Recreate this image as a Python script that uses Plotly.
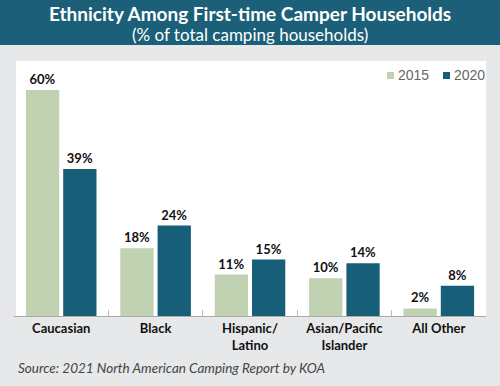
import plotly.graph_objects as go

categories = ["Caucasian", "Black", "Hispanic/<br>Latino", "Asian/Pacific<br>Islander", "All Other"]
values_2015 = [60, 18, 11, 10, 2]
values_2020 = [39, 24, 15, 14, 8]
series_names = ["2015", "2020"]

c2015 = "#c1d2b3"
c2020 = "#175e78"
band = "#1b5f79"
bg = "#e7e8e9"

L, R, T, B = 14, 14, 61, 70
W = 500 - L - R
H = 386 - T - B

def px(pix):
    return (pix - L) / W
def py(pix):
    return (386 - B - pix) / H

fig = go.Figure()
for name, vals, col in [(series_names[0], values_2015, c2015), (series_names[1], values_2020, c2020)]:
    fig.add_trace(go.Bar(
        x=categories, y=vals, name=name, marker=dict(color=col, line=dict(width=0)),
        text=[f"{v}%" for v in vals], textposition="outside", cliponaxis=False, showlegend=False,
        textfont=dict(family="Lato", size=13, color="#111111", weight="bold"),
    ))

# manual legend (squares + labels)
legend_items = [(series_names[0], c2015, 387), (series_names[1], c2020, 443)]
shapes = [dict(type="rect", xref="paper", yref="paper", x0=-0.1, x1=1.1, y0=py(45), y1=py(-5),
               fillcolor=band, line=dict(width=0), layer="below"),
          dict(type="rect", xref="paper", yref="paper", x0=px(16), x1=px(L), y0=0, y1=1,
               fillcolor=bg, line=dict(width=0), layer="above")]
annotations = []
for name, col, x0 in legend_items:
    shapes.append(dict(type="rect", xref="paper", yref="paper", x0=px(x0), x1=px(x0 + 7),
                       y0=py(79), y1=py(72), fillcolor=col, line=dict(width=0)))
    annotations.append(dict(text=name, xref="paper", yref="paper", x=px(x0 + 9), y=py(74.5),
                            xanchor="left", yanchor="middle", showarrow=False,
                            font=dict(family="Liberation Sans", size=14, color="#666666")))

annotations += [
    dict(text="<b><span style='font-size:19px'>Ethnicity Among First-time Camper Households</span></b><br>"
              "<span style='font-size:17px'>(% of total camping households)</span>",
         xref="paper", yref="paper", x=px(250), y=py(23), xanchor="center", yanchor="middle",
         showarrow=False, font=dict(family="Lato", size=15, color="white")),
    dict(text="<i>Source: 2021 North American Camping Report by KOA</i>", xref="paper", yref="paper",
         x=px(16), y=py(368), xanchor="left", yanchor="middle", showarrow=False,
         font=dict(family="Lato", size=13.5, color="#444444")),
]

fig.update_layout(
    width=500, height=386,
    margin=dict(l=L, r=R, t=T, b=B, autoexpand=False),
    paper_bgcolor=bg, plot_bgcolor="white",
    barmode="group", bargap=0.21, bargroupgap=0.107,
    showlegend=False,
    xaxis=dict(showline=True, linecolor="#aaaaaa", linewidth=1, ticks="inside", tickson="boundaries",
               ticklen=6, tickcolor="#bbbbbb", automargin=False,
               tickfont=dict(family="Lato", size=13, color="#111111", weight="bold")),
    yaxis=dict(range=[0, H / 3.767], showgrid=False, showticklabels=False, zeroline=False, visible=False,
               automargin=False),
    shapes=shapes,
    annotations=annotations,
)

fig.write_html("out.html", config={"displayModeBar": False},
               post_script="document.body.style.margin='0px';document.body.style.background='%s';" % bg)
